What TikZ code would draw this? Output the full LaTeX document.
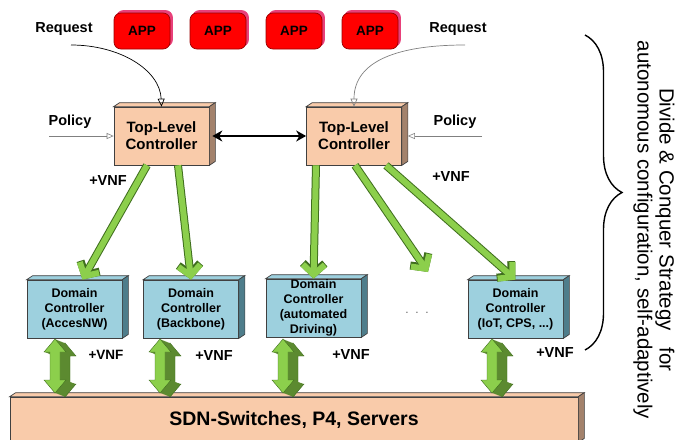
\documentclass[tikz,border=0pt]{standalone}
\usepackage{fontspec}
\setmainfont{Liberation Sans}
\usetikzlibrary{arrows.meta,positioning,shadows,calc,decorations.pathreplacing}

\definecolor{tlcface}{HTML}{F9CBAA}
\definecolor{tlcside}{HTML}{A3826C}
\definecolor{domface}{HTML}{9DD0DE}
\definecolor{domside}{HTML}{4E7D8B}
\definecolor{appred}{HTML}{FF0000}
\definecolor{appline}{HTML}{990000}
\definecolor{apppink}{HTML}{E8407A}
\definecolor{vnflight}{HTML}{8CCF4C}
\definecolor{vnfdark}{HTML}{5C8A30}
\definecolor{vnfline}{HTML}{3F6E1E}

% side and top faces of a box node
\newcommand{\depthfaces}[3]{%
  \draw[boxline, fill=#2] (#1.north west) -- ++(6,-4) -- ($(#1.north east)+(6,-4)$) -- (#1.north east) -- cycle;
  \draw[boxline, fill=#3] (#1.north east) -- ++(6,-4) -- ($(#1.south east)+(6,-4)$) -- (#1.south east) -- cycle;
}
% up-down block arrow
\newcommand{\updownpath}{(0,-27) -- (11,-14) -- (5,-14) -- (5,14) -- (11,14) -- (0,27) -- (-11,14) -- (-5,14) -- (-5,-14) -- (-11,-14) -- cycle}
\newcommand{\updown}[1]{%
  \draw[vnfline, fill=vnfdark, shift={(#1)}, shift={(10,4)}] \updownpath;
  \foreach \k in {9,8,...,1}
    \fill[vnfdark, shift={(#1)}, shift={(\k,0.4*\k)}] \updownpath;
  \draw[vnfline, fill=vnflight, shift={(#1)}] \updownpath;
}

\begin{document}
\begin{tikzpicture}[x=1pt, y=-1pt, node distance=76pt, on grid,
    boxline/.style={draw=black!75, line width=0.7pt},
    lbl/.style={font=\fontsize{14.5}{17}\selectfont\bfseries},
    app/.style={boxline, draw=appline, fill=appred, rounded corners=7pt, minimum width=56pt, minimum height=36pt,
      font=\fontsize{13.5}{16}\selectfont\bfseries,
      copy shadow={shadow xshift=2.5pt, shadow yshift=2.5pt, fill=apppink, draw=apppink}},
    tlc/.style={boxline, fill=tlcface, minimum width=95pt, minimum height=58pt, inner sep=0pt, align=center,
      font=\fontsize{15}{17}\selectfont\bfseries},
    dom/.style={boxline, fill=domface, minimum width=95pt, minimum height=58pt, inner sep=0pt, align=center,
      font=\fontsize{12.5}{15}\selectfont\bfseries},
    request/.style={line width=0.7pt, -{Triangle[open, length=8pt, width=7pt]}},
    policy/.style={line width=0.6pt, gray, -{Triangle[open, length=7pt, width=6pt]}},
    vnf/.style={draw=vnflight, line width=6pt, -{Straight Barb[length=10pt,width=22pt]},
      preaction={draw=vnfline, line width=8pt, -{Straight Barb[length=10pt,width=22pt]}}}]
  \useasboundingbox (0,0) rectangle (677,439);

  % applications
  \node[app] (app1) at (142,31) {APP};
  \node[app] (app2) [right=of app1] {APP};
  \node[app] (app3) [right=of app2] {APP};
  \node[app] (app4) [right=of app3] {APP};

  % top-level controllers
  \node[tlc] (tl1) at (161.5,136) {Top-Level\\Controller};
  \node[tlc] (tl2) at (354,136) {Top-Level\\Controller};
  \depthfaces{tl1}{tlcface}{tlcside}
  \depthfaces{tl2}{tlcface}{tlcside}

  \node[lbl] (req1) at (64,29) {Request};
  \node[lbl] (req2) at (458,29) {Request};
  \node[lbl] (pol1) at (70,122) {Policy};
  \node[lbl] (pol2) at (455,122) {Policy};
  \coordinate (rq1) at (71,45);
  \coordinate (rq2) at (465,45);
  \coordinate (po1) at (49,136);
  \coordinate (po2) at (482,136);

  \draw[request] (rq1) .. controls (120,45) and (160,70) .. (tl1.north);
  \draw[request, gray] (rq2) .. controls (400,45) and (354,60) .. (tl2.north);
  \draw[policy] (po1) -- (tl1.west);
  \draw[policy] (po2) -- ([xshift=6pt]tl2.east);
  \draw[line width=1.8pt, {Stealth[length=10pt,width=11pt]}-{Stealth[length=10pt,width=11pt]}]
    ([xshift=3pt]tl1.east) -- (tl2.west);

  % domain controllers
  \node[dom] (dc1) at (74.5,309) {Domain\\Controller\\(AccesNW)};
  \node[dom] (dc2) at (191,309) {Domain\\Controller\\(Backbone)};
  \node[dom] (dc3) at (313.5,308) {Domain\\Controller\\(automated\\Driving)};
  \node[dom] (dc4) at (515.5,309) {Domain\\Controller\\(IoT, CPS, ...)};
  \depthfaces{dc1}{domface}{domside}
  \depthfaces{dc2}{domface}{domside}
  \depthfaces{dc3}{domface}{domside}
  \depthfaces{dc4}{domface}{domside}
  \node[font=\fontsize{12}{14}\selectfont, text=black!60] (dots) at (417,313) {.\ \ .\ \ .};
  \coordinate (more) at (428,272);

  \draw[vnf] ([xshift=-14.5pt]tl1.south) -- ([xshift=8pt]dc1.north);
  \draw[vnf] ([xshift=16.5pt]tl1.south) -- (dc2.north);
  \draw[vnf] ([xshift=-38pt]tl2.south) -- (dc3.north);
  \draw[vnf] ([xshift=1pt]tl2.south) -- (more);
  \draw[vnf] ([xshift=32pt]tl2.south) -- (dc4.north);
  \node[lbl] (vnf1) at (108,181) {+VNF};
  \node[lbl] (vnf2) at (451,177) {+VNF};

  % infrastructure
  \node[boxline, fill=tlcface, minimum width=568pt, minimum height=45pt, inner sep=0pt,
    font=\fontsize{19.5}{22}\selectfont\bfseries] (base) at (294,419.5) {SDN-Switches, P4, Servers};
  \depthfaces{base}{tlcface}{tlcside}

  \updown{55,366}
  \updown{160,366}
  \updown{283,366}
  \updown{492,366}
  \node[lbl, font=\fontsize{13.5}{16}\selectfont\bfseries] (vnf3) at (106,355) {+VNF};
  \node[lbl] (vnf4) at (214,356) {+VNF};
  \node[lbl] (vnf5) at (351,355) {+VNF};
  \node[lbl] (vnf6) at (555,353) {+VNF};

  % strategy
  \coordinate (brtop) at (585,35);
  \coordinate (brbot) at (585,350);
  \draw[decorate, decoration={brace, amplitude=37pt}, line width=1.4pt] (brtop) -- (brbot);
  \node[rotate=-90, align=center, font=\fontsize{20.5}{22}\selectfont] (strategy) at (654,230)
    {Divide \& Conquer Strategy\hspace{17pt}for\\autonomous configuration, self-adaptively};
\end{tikzpicture}
\end{document}
